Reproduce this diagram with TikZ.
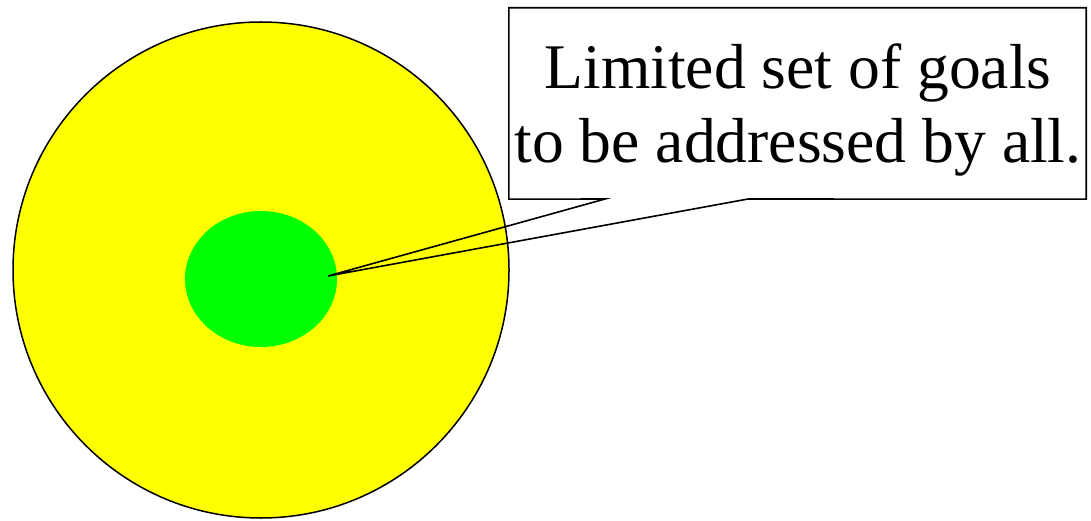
\documentclass[tikz,border=0pt]{standalone}
\usepackage{fontspec}
\newfontfamily\calloutfont{Liberation Serif}
\usetikzlibrary{shapes.geometric}
\definecolor{pureyellow}{RGB}{255,255,0}
\definecolor{puregreen}{RGB}{0,255,0}
\begin{document}
\begin{tikzpicture}[x=1pt,y=-1pt,
  outline/.style={draw=black,line width=1.6pt,line join=miter},
  bigtext/.style={font=\calloutfont\fontsize{63.6}{73.5}\selectfont,align=center,inner sep=0pt}]
\useasboundingbox (0,0) rectangle (1091,521);
\node[circle,minimum size=496pt,inner sep=0pt,fill=pureyellow,draw=black,line width=1.5pt] (outer) at (261,270) {};
\node[ellipse,minimum width=152pt,minimum height=136pt,inner sep=0pt,fill=puregreen] (inner) at (261,279) {};
\coordinate (tip) at (328,276);
\node[rectangle,minimum width=577pt,minimum height=191pt,inner sep=0pt] (box) at (797.5,103.5) {};
\coordinate (b1) at (605,199);
\coordinate (b2) at (748,199);
\draw[outline] (box.north west) -- (box.north east) -- (box.south east) -- (b2) -- (tip) -- (b1) -- (box.south west) -- cycle;
\node[bigtext] (label) at (798,110.2) {Limited set of goals\\to be addressed by all.};
\end{tikzpicture}
\end{document}
